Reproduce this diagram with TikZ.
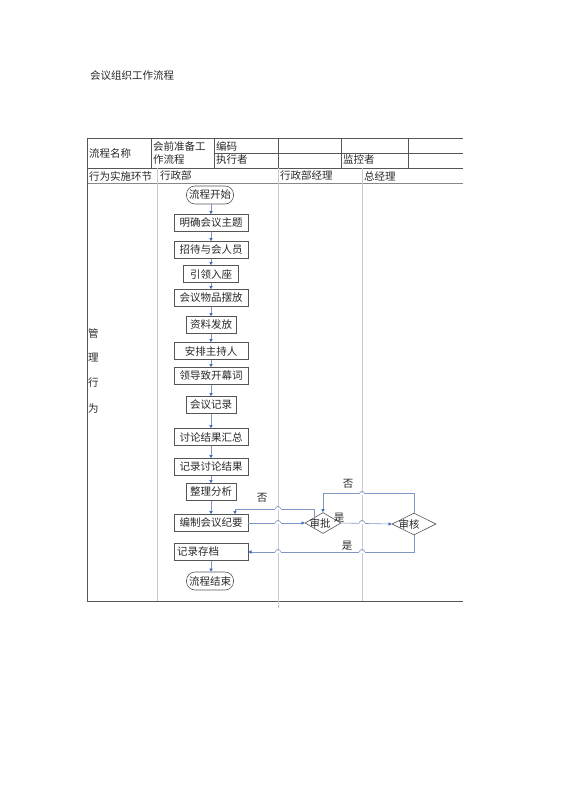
\documentclass[tikz,border=0pt]{standalone}
\usepackage{fontspec}
\setmainfont{Noto Sans CJK SC}
\usetikzlibrary{shapes.geometric,arrows.meta}

\definecolor{tabline}{RGB}{85,85,85}
\definecolor{laneline}{RGB}{198,202,212}
\definecolor{flowline}{RGB}{128,150,196}
\definecolor{tipblue}{RGB}{60,105,190}
\definecolor{txtgray}{RGB}{40,40,40}

\tikzset{
  cell/.style={anchor=west, inner sep=0pt, text=txtgray, font=\fontsize{10.5}{12}\selectfont},
  stepbox/.style={draw=tabline, line width=0.6pt, minimum height=17pt, inner sep=2pt,
    text=txtgray, font=\fontsize{10.5}{12}\selectfont},
  widebox/.style={stepbox, minimum width=74pt},
  terminal/.style={stepbox, rounded corners=8.5pt, minimum width=47pt, minimum height=18pt},
  decide/.style={diamond, draw=tabline, line width=0.6pt, inner sep=0pt},
  flow/.style={draw=flowline, line width=0.6pt, -{Triangle[length=3.2pt,width=3.2pt,color=tipblue]}},
  note/.style={inner sep=0pt, text=txtgray, font=\fontsize{10.5}{12}\selectfont}
}

\begin{document}
\begin{tikzpicture}[x=1pt, y=-1pt]
    \useasboundingbox (0,0) rectangle (560,792);

    % Title
    \node[cell] (title) at (90,76) {会议组织工作流程};

    % Table frame
    \draw[tabline, line width=0.7pt] (87,138) -- (463,138);
    \draw[tabline, line width=0.7pt] (214,153) -- (463,153);
    \draw[tabline, line width=0.7pt] (87,168) -- (463,168);
    \draw[tabline!70, line width=0.7pt] (87,183) -- (463,183);
    \draw[tabline, line width=0.7pt] (87,601) -- (463,601);
    \draw[tabline, line width=0.7pt] (87,138) -- (87,601);
    \foreach \cx in {151,214,278,341,408}
        \draw[tabline, line width=0.7pt] (\cx,138) -- (\cx,168);

    % Lane lines
    \draw[laneline, line width=0.8pt] (157,168) -- (157,601);
    \draw[laneline, line width=0.8pt] (278,168) -- (278,608);
    \draw[laneline, line width=0.8pt] (362,168) -- (362,601);

    % Header texts
    \node[cell] (name) at (89,153) {流程名称};
    \node[cell] (procA) at (153,146) {会前准备工};
    \node[cell] (procB) at (153,160) {作流程};
    \node[cell] (code) at (216,146) {编码};
    \node[cell] (exec) at (216,160) {执行者};
    \node[cell] (monitor) at (343,160) {监控者};
    \node[cell] (act) at (89,176) {行为实施环节};
    \node[cell] (laneA) at (160,176) {行政部};
    \node[cell] (laneB) at (280,176) {行政部经理};
    \node[cell] (laneC) at (364,176) {总经理};

    % Vertical label
    \node[cell] (v1) at (88,333) {管};
    \node[cell] (v2) at (88,358) {理};
    \node[cell] (v3) at (88,383) {行};
    \node[cell] (v4) at (88,408) {为};

    % Flow steps
    \node[terminal] (start) at (210,195) {流程开始};
    \node[widebox] (b1) at (211,223) {明确会议主题};
    \node[widebox] (b2) at (211,250) {招待与会人员};
    \node[stepbox, minimum width=55pt] (b3) at (211,274) {引领入座};
    \node[widebox] (b4) at (211,298) {会议物品摆放};
    \node[stepbox, minimum width=50pt] (b5) at (211,325) {资料发放};
    \node[widebox] (b6) at (211,351) {安排主持人};
    \node[widebox] (b7) at (211,376) {领导致开幕词};
    \node[stepbox, minimum width=50pt] (b8) at (211,405) {会议记录};
    \node[widebox] (b9) at (211,437) {讨论结果汇总};
    \node[widebox] (b10) at (211,467) {记录讨论结果};
    \node[stepbox, minimum width=50pt] (b11) at (211,492) {整理分析};
    \node[widebox] (bianzhi) at (211,523) {编制会议纪要};
    \node[widebox, text width=68pt, align=left] (jilu) at (211,552) {记录存档};
    \node[terminal] (stop) at (210,581) {流程结束};

    % Decisions
    \node[decide, minimum width=36pt, minimum height=21pt,
          label={[note, xshift=-3pt]center:审批}] (spi) at (323,523) {};
    \node[decide, minimum width=44pt, minimum height=22pt,
          label={[note, xshift=-5pt]center:审核}] (shenhe) at (414,524) {};

    % Connectors
    \foreach \a/\b in {start/b1, b1/b2, b2/b3, b3/b4, b4/b5, b5/b6, b6/b7,
                       b7/b8, b8/b9, b9/b10, b10/b11, b11/bianzhi, jilu/stop}
        \draw[flow] (\a.south -| 211,0) -- (\b.north -| 211,0);
    \draw[flow] (bianzhi.east) -- (spi.west);
    \draw[flow] (spi.east) -- (shenhe.west);
    \coordinate (nb) at (235,509);
    \draw[flow] (spi.north west) |- (nb) -- (nb |- bianzhi.north);
    \draw[flow] (shenhe.north) -- ++(0,-19) -| (spi.north);
    \draw[flow] (shenhe.south) |- (jilu.east);

    % Line hops over lanes
    \foreach \hx/\hy in {278/509, 278/523, 362/523, 362/494, 278/552, 362/552} {
        \fill[white] (\hx-2.6,\hy-0.8) rectangle (\hx+2.6,\hy+0.8);
        \draw[flowline, line width=0.6pt] (\hx-2.6,\hy) arc (180:360:2.6);
    }

    % Labels on connectors
    \node[note] (no1) at (262,498) {否};
    \node[note] (no2) at (348,484) {否};
    \node[note] (yes1) at (339,518) {是};
    \node[note] (yes2) at (347,546) {是};
\end{tikzpicture}
\end{document}
